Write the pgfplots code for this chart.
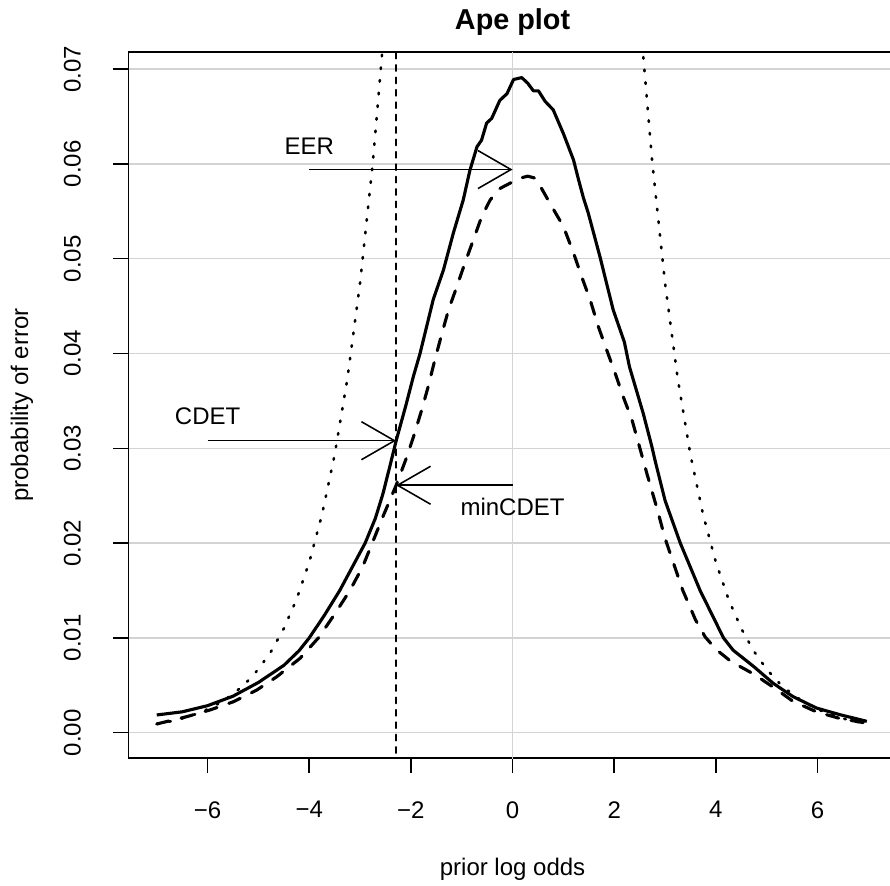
\documentclass[border=0pt]{standalone}
\usepackage{fontspec}
\setmainfont{Liberation Sans}
\usepackage{pgfplots}
\pgfplotsset{compat=1.18}
\usetikzlibrary{arrows.meta}
\definecolor{rgrey}{HTML}{D3D3D3}

\begin{document}
\fontsize{12}{14.4}\selectfont
\begin{tikzpicture}
\begin{axis}[
  at={(0,0)}, anchor=south west,
  scale only axis, width=384.25pt, height=353pt,
  xmin=-7.56, xmax=7.56, ymin=-0.00267, ymax=0.0718,
  xtick={-6,-4,-2,0,2,4,6},
  xticklabels={−6,−4,−2,0,2,4,6},
  ytick={0,0.01,0.02,0.03,0.04,0.05,0.06,0.07},
  yticklabels={0.00,0.01,0.02,0.03,0.04,0.05,0.06,0.07},
  scaled y ticks=false,
  tick pos=left, tick align=outside, major tick length=7.5pt,
  every tick/.style={black, line width=0.78pt},
  axis line style={line width=0.78pt},
  ymajorgrids, grid style={rgrey, line width=0.78pt},
  xticklabel style={inner sep=0pt},
  yticklabel style={rotate=90, anchor=south, inner sep=0pt},
  xticklabel shift=14pt, yticklabel shift=16pt,
  title={Ape plot},
  title style={at={(axis description cs:0.5,1.025)}, anchor=center,
    font=\fontsize{14.4}{17}\selectfont\bfseries},
  xlabel={prior log odds},
  xlabel style={at={(axis description cs:0.5,-0.1573)}, anchor=center},
  ylabel={probability of error},
  ylabel style={at={(axis description cs:-0.1383,0.5)}, anchor=center},
]
% vertical reference at zero log odds
\addplot[rgrey, line width=0.78pt] coordinates {(0,-0.01) (0,0.08)};
% CDET operating point
\addplot[black, line width=0.78pt, line cap=round, dash pattern=on 3.1pt off 3.1pt]
  coordinates {(-2.2925,-0.01) (-2.2925,0.08)};

% actual error rate
\addplot[black, line width=1.56pt, line join=round] coordinates {
(-7.0,0.00187) (-6.5,0.00220) (-6.0,0.00285) (-5.5,0.00385) (-5.0,0.00530)
(-4.5,0.00710) (-4.2,0.00865) (-4.0,0.0100) (-3.7,0.0124) (-3.4,0.0150)
(-3.15,0.0175) (-2.9,0.0200) (-2.7,0.0226) (-2.55,0.0252) (-2.4,0.0284)
(-2.29,0.0308) (-2.1,0.0345) (-1.95,0.0376) (-1.82,0.0400) (-1.56,0.0457)
(-1.36,0.0488) (-1.165,0.0527) (-0.97,0.0562) (-0.84,0.0593) (-0.70,0.0618)
(-0.61,0.0625) (-0.51,0.0643) (-0.41,0.0648) (-0.25,0.0667) (-0.11,0.0674)
(0.02,0.0689) (0.18,0.0691) (0.30,0.0685) (0.41,0.0677) (0.51,0.0677)
(0.64,0.0666) (0.80,0.0657) (1.0,0.0632) (1.20,0.0604) (1.30,0.0583)
(1.39,0.0565) (1.49,0.0548) (1.72,0.0502) (1.98,0.0446) (2.20,0.0412)
(2.30,0.0386) (2.57,0.0337) (2.74,0.0302) (2.80,0.0288) (3.0,0.0245)
(3.3,0.0200) (3.69,0.0150) (4.15,0.0100) (4.34,0.0087) (4.74,0.0070)
(5.13,0.0052) (5.52,0.0038) (5.98,0.0026) (6.44,0.0019) (6.97,0.0012)
};

% minimum error rate
\addplot[black, line width=1.56pt, line join=round, line cap=round,
  dash pattern=on 6.25pt off 6.25pt] coordinates {
(-7.0,0.00092) (-6.41,0.00169) (-5.95,0.0024) (-5.49,0.00327) (-5.03,0.0045)
(-4.64,0.0059) (-4.18,0.00785) (-3.82,0.0100) (-3.5,0.0125) (-3.2,0.0150)
(-2.95,0.0175) (-2.76,0.0200) (-2.55,0.0228) (-2.29,0.0261) (-2.08,0.0291)
(-1.95,0.0312) (-1.79,0.0340) (-1.66,0.0365) (-1.53,0.0393) (-1.39,0.0421)
(-1.26,0.0446) (-1.10,0.0470) (-0.94,0.0495) (-0.77,0.0520) (-0.61,0.0544)
(-0.44,0.0562) (-0.25,0.0574) (0.0,0.0581) (0.15,0.0585) (0.30,0.0587)
(0.44,0.0585) (0.54,0.0577) (0.74,0.0558) (1.0,0.0534) (1.2,0.0506)
(1.36,0.0481) (1.53,0.0456) (1.69,0.0428) (1.85,0.0404) (2.02,0.0379)
(2.18,0.0354) (2.35,0.0330) (2.48,0.0305) (2.65,0.0272) (2.85,0.0235)
(3.0,0.0205) (3.35,0.0150) (3.6,0.0119) (3.79,0.0101) (4.0,0.0088)
(4.3,0.0075) (4.74,0.0062) (5.13,0.0048) (5.52,0.0033) (5.98,0.0022)
(6.44,0.0015) (6.97,0.0010)
};

% default (no information) error
\addplot[black, line width=1.3pt, line cap=round, line join=round,
  dash pattern=on 0.8pt off 5.55pt] coordinates {
(-7.0,0.00091) (-6.75,0.00117) (-6.5,0.00150) (-6.25,0.00193) (-6.0,0.00247)
(-5.75,0.00317) (-5.5,0.00407) (-5.25,0.00522) (-5.0,0.00669) (-4.75,0.00858)
(-4.5,0.01099) (-4.25,0.01406) (-4.0,0.01799) (-3.75,0.02298) (-3.5,0.02931)
(-3.25,0.03733) (-3.0,0.04743) (-2.75,0.06009) (-2.5,0.07586) (-2.25,0.09535)
(2.25,0.09535) (2.5,0.07586) (2.75,0.06009) (3.0,0.04743) (3.25,0.03733)
(3.5,0.02931) (3.75,0.02298) (4.0,0.01799) (4.25,0.01406) (4.5,0.01099)
(4.75,0.00858) (5.0,0.00669) (5.25,0.00522) (5.5,0.00407) (5.75,0.00317)
(6.0,0.00247) (6.25,0.00193) (6.5,0.00150) (6.75,0.00117) (7.0,0.00091)
};

% annotations
\draw[line width=0.78pt, -{Straight Barb[length=16.5pt,width=19pt]}]
  (axis cs:-4,0.0594) -- (axis cs:0,0.0594);
\node[anchor=center, yshift=11.5pt] at (axis cs:-4,0.0594) {EER};
\draw[line width=0.78pt, -{Straight Barb[length=16.5pt,width=19pt]}]
  (axis cs:-6,0.0308) -- (axis cs:-2.2925,0.0308);
\node[anchor=center, yshift=12pt] at (axis cs:-6,0.0308) {CDET};
\draw[line width=0.78pt, -{Straight Barb[length=16.5pt,width=19pt]}]
  (axis cs:0,0.0261) -- (axis cs:-2.2925,0.0261);
\node[anchor=center, yshift=-11pt] at (axis cs:0,0.0261) {minCDET};
\end{axis}
\pgfresetboundingbox
\path (-64.15pt,-63.5pt) rectangle (380.85pt,379pt);
\end{tikzpicture}
\end{document}
